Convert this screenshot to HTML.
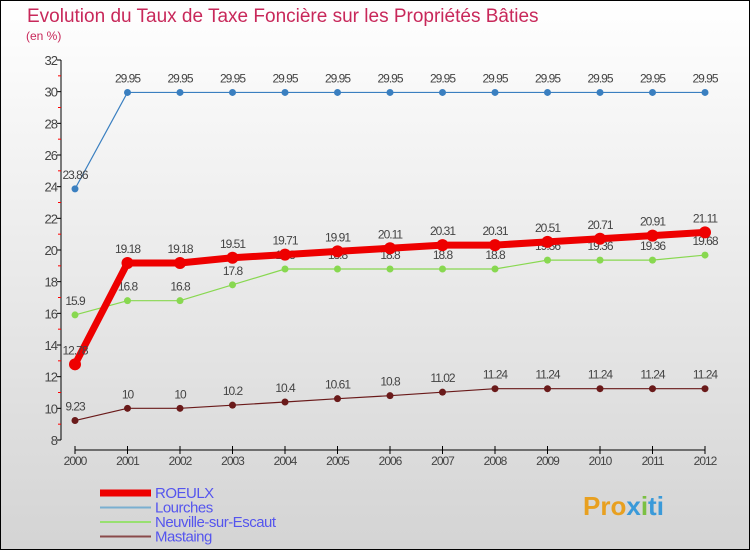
<!DOCTYPE html>
<html><head><meta charset="utf-8"><style>
body{margin:0;width:750px;height:550px;overflow:hidden}
#wrap{position:absolute;left:0;top:0;width:748px;height:548px;border:1px solid #000;background:linear-gradient(#fff,#d4d4d4)}
svg text{font-family:"Liberation Sans",sans-serif}
</style></head><body>
<div id="wrap">
<svg id="chart" width="750" height="550" style="position:absolute;left:-1px;top:-1px">
<text x="27" y="22" font-size="19" fill="#c8285a">Evolution du Taux de Taxe Foncière sur les Propriétés Bâties</text>
<text x="26" y="40" font-size="12" fill="#c8285a">(en %)</text>
<g id="axes"></g><g id="series"></g><g id="legend"></g>
<text x="583" y="515" font-size="26" font-weight="bold" fill="#e8a020">Pro<tspan fill="#3a9ad9">x</tspan><tspan fill="#7bc043">i</tspan><tspan fill="#3a9ad9">ti</tspan></text>
</svg></div>
<script>
const years=[2000,2001,2002,2003,2004,2005,2006,2007,2008,2009,2010,2011,2012];
const yTicks=[8,10,12,14,16,18,20,22,24,26,28,30,32];
const roeulx=[12.78,19.18,19.18,19.51,19.71,19.91,20.11,20.31,20.31,20.51,20.71,20.91,21.11];
const lourches=[23.86,29.95,29.95,29.95,29.95,29.95,29.95,29.95,29.95,29.95,29.95,29.95,29.95];
const neuville=[15.9,16.8,16.8,17.8,18.8,18.8,18.8,18.8,18.8,19.36,19.36,19.36,19.68];
const mastaing=[9.23,10,10,10.2,10.4,10.61,10.8,11.02,11.24,11.24,11.24,11.24,11.24];
const NS='http://www.w3.org/2000/svg';
const X=i=>75+i*52.5, Y=v=>440-(v-8)*380/24;
function mk(t,a,p){const e=document.createElementNS(NS,t);for(const k in a)e.setAttribute(k,a[k]);p.appendChild(e);return e;}
const ax=document.getElementById('axes');
let l=mk('line',{x1:61,y1:60,x2:61,y2:440,stroke:'#000'},ax);


yTicks.forEach((v,i)=>{
  mk('line',{x1:57,x2:61,y1:Y(v),y2:Y(v),stroke:'#000'},ax);
  if(i<yTicks.length-1)mk('line',{x1:58,x2:61,y1:Y(v+1),y2:Y(v+1),stroke:'#f00'},ax);
  const t=mk('text',{x:57,y:Y(v)+5,'font-size':13,fill:'#444','text-anchor':'end','letter-spacing':'-1'},ax);
  t.textContent=v;
  
  
});
l=mk('line',{x1:75,y1:450,x2:705,y2:450,stroke:'#000'},ax);


years.forEach((y,i)=>{
  mk('line',{x1:X(i),x2:X(i),y1:446,y2:454,stroke:'#000'},ax);
  const t=mk('text',{x:X(i),y:465,'font-size':12,fill:'#444','text-anchor':'middle','letter-spacing':'-1'},ax);
  t.textContent=y;
  
  
});
const sg=document.getElementById('series');
function draw(data,color,w,r,name){
  const g=mk('g',{},sg);
  
  
  mk('polyline',{points:data.map((v,i)=>X(i)+','+Y(v)).join(' '),fill:'none',stroke:color,'stroke-width':w,'stroke-linejoin':'round'},g);
  data.forEach((v,i)=>{
    const c=mk('circle',{cx:X(i),cy:Y(v),r:r,fill:color},g);
    
    
    const t=mk('text',{x:X(i),y:Y(v)-10,'font-size':12,fill:'#444','text-anchor':'middle','letter-spacing':'-1'},g);
    t.textContent=v;
    
    
  });
}
draw(lourches,'#3a7fc0',1.2,3.5,'lourches');
draw(neuville,'#88d850',1.2,3.5,'neuville');
draw(mastaing,'#6a1a1a',1.2,3.5,'mastaing');
draw(roeulx,'#ee0000',7,6,'roeulx');
const lg=document.getElementById('legend');
[['ROEULX','#ee0000',7],['Lourches','#7aafd0',2],['Neuville-sur-Escaut','#98e070',2],['Mastaing','#8a4a4a',2]].forEach((d,i)=>{
  const y=493+i*14.5;
  const ln=mk('line',{x1:100,x2:151,y1:y,y2:y,stroke:d[1],'stroke-width':d[2]},lg);
  
  
  const t=mk('text',{x:155,y:y+5,'font-size':15,fill:'#5555ee','letter-spacing':'-0.5'},lg);
  t.textContent=d[0];
  
  
});
</script>
</body></html>
